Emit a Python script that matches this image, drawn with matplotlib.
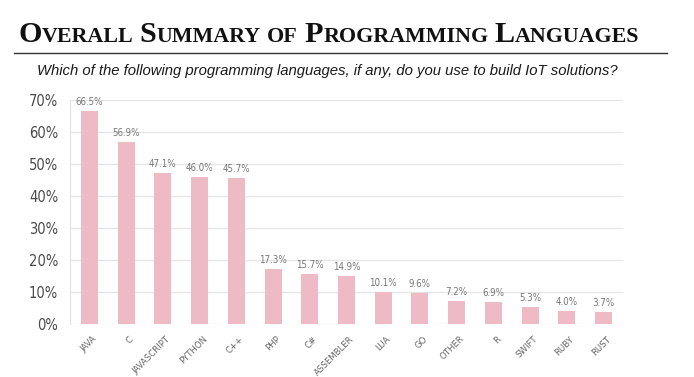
import matplotlib
matplotlib.use('Agg')
import matplotlib.pyplot as plt
from matplotlib import font_manager as fm
from matplotlib.transforms import ScaledTranslation

categories = ['JAVA', 'C', 'JAVASCRIPT', 'PYTHON', 'C++', 'PHP', 'C#', 'ASSEMBLER',
              'LUA', 'GO', 'OTHER', 'R', 'SWIFT', 'RUBY', 'RUST']
values = [66.5, 56.9, 47.1, 46.0, 45.7, 17.3, 15.7, 14.9, 10.1, 9.6, 7.2, 6.9, 5.3, 4.0, 3.7]
yticks = [0, 10, 20, 30, 40, 50, 60, 70]
ytick_labels = ['0%', '10%', '20%', '30%', '40%', '50%', '60%', '70%']
title_words = ['Overall', 'Summary', 'of', 'Programming', 'Languages']
subtitle = 'Which of the following programming languages, if any, do you use to build IoT solutions?'

W, H = 694, 377


def wnum(w):
    if isinstance(w, int):
        return w
    return {'bold': 700, 'normal': 400, 'regular': 400, 'book': 400}.get(str(w).lower(), 400)


def find_font(families, bold=False, style='normal'):
    for fam in families:
        cands = [f for f in fm.fontManager.ttflist if f.name == fam and f.style == style]
        cands = [f for f in cands if (wnum(f.weight) >= 600) == bold]
        if not cands:
            continue
        cond = [f for f in cands if 'ondensed' in f.fname or 'Narrow' in f.fname
                or 'condensed' in str(f.stretch)]
        ch = cond[0] if cond else cands[0]
        return fm.FontProperties(fname=ch.fname)
    return fm.FontProperties(family='DejaVu Sans', weight='bold' if bold else 'normal', style=style)


title_fp = find_font(['Liberation Serif', 'DejaVu Serif'], bold=True)
sub_fp = find_font(['Liberation Sans Narrow', 'DejaVu Sans', 'Liberation Sans'], style='italic')
if 'Oblique' not in str(sub_fp.get_file()) and 'Italic' not in str(sub_fp.get_file()):
    sub_fp = find_font(['Liberation Sans Narrow', 'DejaVu Sans', 'Liberation Sans'], style='oblique')
lab_fp = find_font(['Liberation Sans Narrow', 'DejaVu Sans', 'Liberation Sans'])

fig = plt.figure(figsize=(W / 100, H / 100), dpi=100)
fig.patch.set_facecolor('white')
renderer = fig.canvas.get_renderer()

# ---- Title in simulated small caps ----
pieces = []
for i, w in enumerate(title_words):
    rest = w
    if w[0].isupper():
        pieces.append((w[0], True))
        rest = w[1:]
    pieces.append((rest.upper(), False))
    if i < len(title_words) - 1:
        pieces.append((' ', False))


def layout_title(big, small, draw):
    x = 18.0
    arts = []
    for txt, isbig in pieces:
        size = big if isbig else small
        if txt == ' ':
            x += size * 100 / 72 * 0.30
            continue
        fp = title_fp.copy()
        fp.set_size(size)
        t = fig.text(x / W, 1 - 42 / H, txt, fontproperties=fp, color='#111111',
                     ha='left', va='baseline')
        x += t.get_window_extent(renderer).width
        arts.append(t)
    if not draw:
        for a in arts:
            a.remove()
    return x - 18.0


big0, small0 = 24.0, 17.5
wid = layout_title(big0, small0, False)
f = 620.0 / wid
layout_title(big0 * f, small0 * f, True)

# rule under title
fig.add_artist(plt.Line2D([14 / W, 667 / W], [1 - 53 / H, 1 - 53 / H],
                          color='#333333', lw=1.0, transform=fig.transFigure))

# subtitle
sfp = sub_fp.copy()
sfp.set_size(12)
st = fig.text(37 / W, 1 - 75.5 / H, subtitle, fontproperties=sfp, color='#1a1a1a',
              ha='left', va='baseline')
sw = st.get_window_extent(renderer).width
sfp.set_size(12 * 584.0 / sw)
st.set_fontproperties(sfp)

# ---- Bar chart ----
ax = fig.add_axes([70 / W, 1 - 324 / H, (623 - 70) / W, 224 / H])
x = list(range(len(categories)))
ax.bar(x, values, width=0.46, color='#EDBAC6', zorder=2)
ax.set_xlim(-0.53, len(categories) - 0.47)
ax.set_ylim(0, 70)
ax.set_yticks(yticks)
ax.yaxis.grid(True, color='#e4e4e4', lw=0.9, zorder=0)
ax.set_axisbelow(True)
for s in ['top', 'right', 'bottom']:
    ax.spines[s].set_visible(False)
ax.spines['left'].set_color('#e4e4e4')
ax.spines['left'].set_linewidth(0.9)

yfp = lab_fp.copy()
yfp.set_size(10.5)
ax.set_yticklabels(ytick_labels, fontproperties=yfp, color='#4a4a4a')
ax.tick_params(axis='y', length=0, pad=8.5)

ax.set_xticks(x)
xfp = lab_fp.copy()
xfp.set_size(6.8)
ax.set_xticklabels(categories, fontproperties=xfp, color='#666666',
                   rotation=45, ha='right', va='top', rotation_mode='anchor')
ax.tick_params(axis='x', length=0, pad=7.5)
off = ScaledTranslation(3 / 100, 0, fig.dpi_scale_trans)
for lab in ax.get_xticklabels():
    lab.set_transform(lab.get_transform() + off)

vfp = lab_fp.copy()
vfp.set_size(7)
for xi, v in zip(x, values):
    ax.text(xi, v + 2.8, f'{v:.1f}%', ha='center', va='center',
            fontproperties=vfp, color='#777777')

fig.savefig('out.png', dpi=100, facecolor='white')
